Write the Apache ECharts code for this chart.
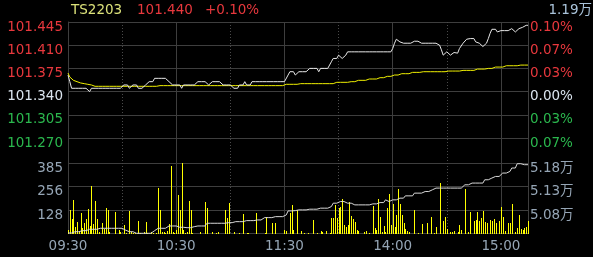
<!DOCTYPE html>
<html><head><meta charset="utf-8">
<script src="https://cdn.jsdelivr.net/npm/echarts@6/dist/echarts.min.js"></script>
<style>html,body{margin:0;padding:0;background:#000;}#c{width:593px;height:257px;}</style>
</head><body><div id="c"></div>
<script>
// ---- data ----
const sessions = [['09:30','11:30'],['13:01','15:15']];
const times = [];
sessions.forEach(([a,b])=>{
  let [h,m]=a.split(':').map(Number); const [h2,m2]=b.split(':').map(Number);
  while(h*60+m<=h2*60+m2){ times.push(String(h).padStart(2,'0')+':'+String(m).padStart(2,'0')); m++; if(m===60){m=0;h++;} }
});
const xTickLabels = ['09:30','10:30','11:30','14:00','15:00'];
const solidLines = ['09:30','10:30','11:30','14:00','15:00'];
const dottedLines = ['10:00','11:00','13:30','14:30'];

const price = [
101.365,101.355,101.345,101.345,101.345,101.345,101.345,101.345,101.345,101.345,
101.345,101.345,101.340,101.345,101.345,101.345,101.345,101.345,101.345,101.345,
101.345,101.345,101.345,101.345,101.345,101.345,101.345,101.345,101.345,101.345,
101.345,101.350,101.350,101.350,101.345,101.345,101.350,101.350,101.350,101.345,
101.345,101.345,101.345,101.350,101.350,101.355,101.355,101.355,101.360,101.360,
101.360,101.360,101.360,101.360,101.360,101.360,101.355,101.355,101.350,101.350,
101.350,101.350,101.350,101.345,101.350,101.350,101.350,101.350,101.350,101.350,
101.350,101.350,101.355,101.355,101.355,101.355,101.355,101.355,101.350,101.350,
101.355,101.355,101.355,101.355,101.355,101.355,101.350,101.350,101.350,101.350,
101.350,101.350,101.345,101.345,101.345,101.350,101.350,101.350,101.355,101.350,
101.350,101.350,101.355,101.355,101.355,101.355,101.355,101.355,101.355,101.355,
101.355,101.355,101.355,101.355,101.355,101.355,101.355,101.355,101.355,101.355,
101.355,101.355,101.365,101.370,101.370,101.370,101.365,101.365,101.370,101.370,
101.370,101.370,101.370,101.370,101.375,101.375,101.375,101.375,101.375,101.370,
101.375,101.375,101.375,101.375,101.375,101.375,101.385,101.390,101.390,101.390,
101.395,101.395,101.390,101.390,101.395,101.400,101.400,101.400,101.400,101.400,
101.400,101.400,101.400,101.400,101.400,101.400,101.400,101.400,101.400,101.400,
101.400,101.400,101.400,101.400,101.400,101.400,101.400,101.400,101.400,101.400,
101.405,101.413,101.419,101.419,101.415,101.413,101.413,101.413,101.413,101.413,
101.413,101.413,101.416,101.416,101.416,101.416,101.413,101.413,101.413,101.413,
101.413,101.413,101.413,101.413,101.413,101.413,101.410,101.403,101.395,101.395,
101.400,101.400,101.395,101.395,101.399,101.398,101.398,101.405,101.405,101.413,
101.413,101.419,101.419,101.420,101.420,101.420,101.415,101.415,101.413,101.413,
101.408,101.408,101.413,101.420,101.428,101.434,101.434,101.434,101.430,101.432,
101.432,101.432,101.432,101.432,101.432,101.435,101.435,101.435,101.430,101.430,
101.435,101.435,101.437,101.437,101.440,101.440];

const avgPrice = [
101.368,101.362,101.359,101.357,101.356,101.355,101.354,101.353,101.352,101.352,
101.351,101.351,101.350,101.350,101.349,101.348,101.348,101.348,101.348,101.348,
101.348,101.348,101.348,101.348,101.348,101.348,101.348,101.348,101.348,101.348,
101.348,101.348,101.348,101.348,101.348,101.348,101.348,101.348,101.348,101.348,
101.348,101.348,101.348,101.348,101.348,101.348,101.348,101.348,101.348,101.348,
101.349,101.349,101.349,101.349,101.349,101.349,101.349,101.349,101.349,101.349,
101.349,101.349,101.349,101.349,101.349,101.349,101.349,101.349,101.349,101.349,
101.349,101.349,101.349,101.349,101.349,101.349,101.349,101.349,101.349,101.349,
101.349,101.349,101.349,101.349,101.349,101.349,101.349,101.349,101.349,101.349,
101.349,101.349,101.349,101.349,101.349,101.349,101.349,101.349,101.349,101.349,
101.349,101.349,101.349,101.349,101.349,101.349,101.349,101.349,101.349,101.349,
101.349,101.349,101.349,101.349,101.349,101.349,101.349,101.349,101.349,101.349,
101.351,101.351,101.351,101.351,101.351,101.351,101.351,101.351,101.352,101.352,
101.352,101.352,101.352,101.352,101.352,101.352,101.352,101.352,101.352,101.352,
101.352,101.352,101.352,101.352,101.352,101.352,101.352,101.352,101.354,101.354,
101.354,101.354,101.354,101.354,101.354,101.354,101.355,101.355,101.355,101.355,
101.355,101.357,101.357,101.357,101.357,101.357,101.357,101.359,101.359,101.359,
101.359,101.359,101.359,101.361,101.361,101.361,101.361,101.363,101.363,101.363,
101.363,101.365,101.365,101.365,101.365,101.367,101.367,101.367,101.367,101.367,
101.367,101.369,101.369,101.369,101.369,101.369,101.369,101.370,101.370,101.370,
101.370,101.370,101.370,101.370,101.370,101.370,101.370,101.370,101.370,101.370,
101.370,101.371,101.371,101.371,101.371,101.371,101.371,101.371,101.371,101.372,
101.372,101.372,101.372,101.372,101.372,101.372,101.372,101.374,101.374,101.374,
101.374,101.374,101.375,101.375,101.375,101.375,101.377,101.377,101.377,101.377,
101.377,101.377,101.377,101.379,101.379,101.379,101.379,101.379,101.379,101.379,
101.380,101.380,101.380,101.380,101.380,101.380];

const volume = [
20,129,79,184,34,65,15,114,28,59,
78,132,40,260,50,178,80,10,0,60,
27,138,129,10,0,0,120,0,20,8,
0,47,5,0,123,8,5,3,0,70,
5,0,10,65,5,0,8,3,0,5,
247,129,10,8,5,12,50,370,10,5,
20,211,129,385,20,5,8,178,129,3,
0,0,0,10,0,0,171,138,0,0,
10,0,3,8,0,0,0,129,85,169,
0,0,8,0,0,5,0,105,0,5,
3,0,0,0,110,0,0,0,0,3,
92,0,0,60,0,60,0,0,0,0,
20,15,0,110,156,20,0,129,0,12,
0,5,0,3,0,0,74,0,3,0,
12,8,0,15,0,5,83,87,156,83,
138,143,187,47,37,47,174,96,79,65,
19,15,0,0,10,14,0,5,0,152,
28,19,187,92,10,41,10,138,216,47,
160,37,101,242,160,101,56,25,15,8,
0,0,129,0,3,0,52,0,0,56,
0,89,0,5,34,0,275,0,70,92,
25,0,10,10,14,0,10,47,19,0,
242,0,10,116,0,70,74,116,70,83,
125,65,59,0,74,68,78,56,0,70,
143,92,12,0,56,59,162,0,10,28,
101,23,19,28,37,68];

const openInterest = [
50311,50311,50311,50338,50338,50338,50338,50360,50360,50360,
50360,50390,50390,50390,50390,50390,50390,50390,50411,50411,
50411,50411,50411,50411,50411,50411,50411,50411,50411,50411,
50411,50370,50370,50370,50338,50338,50338,50338,50304,50304,
50304,50304,50304,50304,50304,50304,50304,50304,50360,50360,
50411,50411,50411,50411,50411,50411,50460,50460,50460,50460,
50460,50460,50432,50432,50432,50432,50424,50424,50424,50445,
50445,50445,50460,50460,50460,50460,50460,50518,50518,50518,
50518,50518,50518,50518,50518,50518,50518,50518,50531,50531,
50531,50531,50552,50552,50552,50552,50552,50552,50574,50574,
50574,50574,50574,50574,50574,50588,50588,50588,50588,50638,
50638,50638,50638,50638,50638,50659,50659,50659,50659,50659,
50695,50695,50781,50781,50781,50787,50787,50787,50802,50802,
50802,50802,50802,50802,50817,50817,50817,50817,50817,50817,
50839,50839,50839,50839,50839,50873,50873,50945,50945,50945,
50980,50980,50980,50980,50945,50945,50945,50945,50909,50909,
50909,50909,50909,50909,50909,50909,50909,50909,50909,50930,
50930,50930,50958,50958,50958,50958,51016,51016,50980,50980,
51016,51016,51016,51052,51052,51052,51052,51101,51101,51101,
51101,51101,51159,51159,51159,51159,51159,51193,51193,51193,
51193,51230,51230,51230,51266,51266,51266,51266,51266,51266,
51266,51266,51266,51266,51266,51266,51266,51266,51266,51266,
51336,51336,51336,51373,51373,51373,51373,51373,51373,51373,
51373,51443,51443,51443,51480,51480,51480,51514,51514,51514,
51514,51586,51586,51586,51621,51621,51693,51693,51693,51785,
51785,51785,51785,51764,51764,51764];

const priceTicks = ['101.270','101.305','101.340','101.375','101.410','101.445'];
const pctTicks = ['0.07%','0.03%','0.00%','0.03%','0.07%','0.10%'];
const volTicks = ['','128','256','385'];
const oiTicks = ['','5.08万','5.13万','5.18万'];
const header = {code:'TS2203', last:'101.440', chg:'+0.10%', total:'1.19万'};

// ---- styles ----
const RED='#e8383d', GREEN='#2bb84e', NEUTRAL='#dbe5ef', GRAYBLUE='#95a5b5';
const FONT='"DejaVu Sans","Noto Sans CJK SC",sans-serif';
const FS=13.5;
const GRID='#3e3e3e';
const tickColors = [GREEN,GREEN,NEUTRAL,RED,RED,RED];

const chart = echarts.init(document.getElementById('c'), null, {renderer:'canvas'});
const L=68, R=65;
const hiddenCat = (grid)=>({type:'category', gridIndex:grid, data:times, boundaryGap:false,
  axisLine:{show:false}, axisTick:{show:false}, axisLabel:{show:false}, splitLine:{show:false}});
const yLabel = (extra)=>Object.assign({fontFamily:FONT, fontSize:FS, verticalAlign:'top', lineHeight:10,
  showMinLabel:true, showMaxLabel:true}, extra);

chart.setOption({
  backgroundColor:'#000',
  animation:false,
  grid:[
    {left:L, right:R, top:22, height:116},
    {left:L, right:R, top:163, height:70.5},
    {left:L, right:R, top:22, height:211.5}
  ],
  xAxis:[
    hiddenCat(0),
    Object.assign(hiddenCat(1), {axisLabel:{show:true, interval:(i,v)=>xTickLabels.includes(v),
      color:GRAYBLUE, fontFamily:FONT, fontSize:FS, margin:6}}),
    Object.assign(hiddenCat(2), {splitLine:{show:true, interval:(i,v)=>solidLines.includes(v),
      lineStyle:{color:GRID, width:1, type:'solid'}}}),
    Object.assign(hiddenCat(2), {splitLine:{show:true, interval:(i,v)=>dottedLines.includes(v),
      lineStyle:{color:'#4a4a4a', width:1, type:[1,2]}}})
  ],
  yAxis:[
    {type:'value', gridIndex:0, position:'left', min:101.270, max:101.445, interval:0.035,
     axisLine:{show:false}, axisTick:{show:false},
     splitLine:{show:true, lineStyle:{color:GRID}},
     axisLabel:yLabel({formatter:(v,i)=>priceTicks[i], color:(v,i)=>tickColors[i], margin:5})},
    {type:'value', gridIndex:0, position:'right', min:101.270, max:101.445, interval:0.035,
     axisLine:{show:false}, axisTick:{show:false}, splitLine:{show:false},
     axisLabel:yLabel({formatter:(v,i)=>pctTicks[i], color:(v,i)=>tickColors[i], margin:2})},
    {type:'value', gridIndex:1, position:'left', min:0, max:385, interval:385/3,
     axisLine:{show:false}, axisTick:{show:false},
     splitLine:{show:true, lineStyle:{color:GRID}},
     axisLabel:yLabel({formatter:(v,i)=>volTicks[i], color:GRAYBLUE, margin:5})},
    {type:'value', gridIndex:1, position:'right', min:50300, max:51800, interval:500,
     axisLine:{show:false}, axisTick:{show:false}, splitLine:{show:false},
     axisLabel:yLabel({formatter:(v,i)=>oiTicks[i], color:GRAYBLUE, margin:2})},
    {type:'value', gridIndex:2, position:'left', axisLine:{show:true, lineStyle:{color:GRID}},
     axisTick:{show:false}, axisLabel:{show:false}, splitLine:{show:false}},
    {type:'value', gridIndex:2, position:'right', axisLine:{show:true, lineStyle:{color:GRID}},
     axisTick:{show:false}, axisLabel:{show:false}, splitLine:{show:false}}
  ],
  series:[
    {type:'custom', xAxisIndex:1, yAxisIndex:2, data:volume.map((v,i)=>[i,v]), silent:true,
     renderItem:(params, api)=>{
       const base = api.coord([api.value(0), 0]);
       const top = api.coord([api.value(0), api.value(1)]);
       const x = Math.round(base[0]);
       const y0 = Math.round(base[1]), y1 = Math.round(top[1]);
       if (y0 - y1 <= 0) return null;
       return {type:'rect', shape:{x:x, y:y1, width:1, height:y0-y1}, style:{fill:'#ffff00'}};
     }},
    {type:'line', xAxisIndex:1, yAxisIndex:3, data:openInterest, symbol:'none', lineStyle:{color:'#d8d8d8', width:1}, silent:true},
    {type:'line', xAxisIndex:0, yAxisIndex:0, data:avgPrice, symbol:'none', lineStyle:{color:'#f0f000', width:1}, silent:true},
    {type:'line', xAxisIndex:0, yAxisIndex:0, data:price, symbol:'none', lineStyle:{color:'#e8e8e8', width:1}, silent:true}
  ],
  graphic:[
    {type:'text', style:{x:71, y:10, text:header.code, fill:'#dce27a', font:FS+'px '+FONT, verticalAlign:'middle'}},
    {type:'text', style:{x:137, y:10, text:header.last, fill:RED, font:FS+'px '+FONT, verticalAlign:'middle'}},
    {type:'text', style:{x:205, y:10, text:header.chg, fill:RED, font:FS+'px '+FONT, verticalAlign:'middle'}},
    {type:'text', style:{x:592, y:10, text:header.total, fill:'#a9c3da', font:FS+'px '+FONT, align:'right', verticalAlign:'middle'}}
  ]
});
</script></body></html>
